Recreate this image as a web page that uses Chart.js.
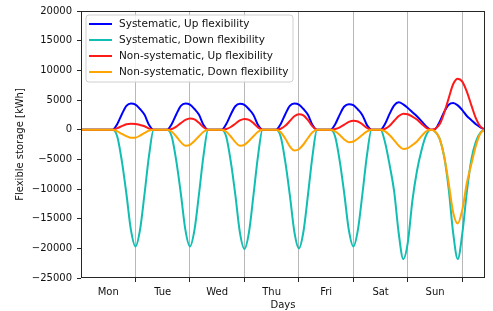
<!DOCTYPE html>
<html>
<head>
<meta charset="utf-8">
<script src="https://cdn.jsdelivr.net/npm/chart.js@4"></script>
<style>
  html, body { margin: 0; padding: 0; background: #fff; }
</style>
</head>
<body>
<canvas id="storageChart" width="493" height="311"></canvas>
<script>
'use strict';

// hours from the start of the week, every 2 h
var hours = [
  0, 2, 4, 6, 8, 10, 12, 14, 16, 18, 20, 22,
  24, 26, 28, 30, 32, 34, 36, 38, 40, 42, 44, 46,
  48, 50, 52, 54, 56, 58, 60, 62, 64, 66, 68, 70,
  72, 74, 76, 78, 80, 82, 84, 86, 88, 90, 92, 94,
  96, 98, 100, 102, 104, 106, 108, 110, 112, 114, 116, 118,
  120, 122, 124, 126, 128, 130, 132, 134, 136, 138, 140, 142,
  144, 146, 148, 150, 152, 154, 156, 158, 160, 162, 164, 166,
  168, 170, 172, 174, 176, 178
];
var dayNames = ['Mon', 'Tue', 'Wed', 'Thu', 'Fri', 'Sat', 'Sun'];
var seriesNames = [
  'Systematic, Up flexibility',
  'Systematic, Down flexibility',
  'Non-systematic, Up flexibility',
  'Non-systematic, Down flexibility'
];

var sysUp = [
  0, 0, 0, 0, 0, 0, 0, 0, 950, 2600, 4000, 4400,
  4220, 3480, 2500, 790, 0, 0, 0, 0, 950, 2600, 4000, 4400,
  4220, 3480, 2500, 790, 0, 0, 0, 0, 950, 2560, 3950, 4350,
  4170, 3440, 2480, 780, 0, 0, 0, 0, 950, 2600, 4000, 4400,
  4220, 3480, 2500, 790, 0, 0, 0, 0, 930, 2540, 3900, 4300,
  4130, 3400, 2450, 770, 0, 0, 0, 1000, 2700, 4100, 4600, 4250,
  3650, 2950, 2250, 1450, 600, 0, 100, 1300, 3000, 4200, 4500, 4100,
  3300, 2300, 1600, 900, 380, 0
];
var sysDown = [
  0, 0, 0, 0, 0, 0, 0, 0, -1200, -5300, -10800, -16900,
  -19700, -16900, -10800, -4300, 0, 0, 0, 0, -1200, -5300, -10800, -16900,
  -19700, -16900, -10800, -4300, 0, 0, 0, 0, -1200, -5400, -11000, -17300,
  -20100, -17300, -11000, -4400, 0, 0, 0, 0, -1200, -5400, -11000, -17200,
  -20000, -17200, -11000, -4400, 0, 0, 0, 0, -1200, -5300, -10800, -16900,
  -19700, -16900, -10800, -4300, 0, 0, 0, -2200, -6000, -10500, -17500, -21800,
  -19000, -12000, -7000, -3500, -1000, 0, -300, -1500, -4500, -10000, -17500, -21800,
  -17500, -10500, -5000, -2000, -500, 0
];
var nonSysUp = [
  0, 0, 0, 0, 0, 0, 0, 0, 250, 600, 910, 1000,
  960, 790, 570, 180, 0, 0, 0, 0, 100, 500, 1100, 1650,
  1900, 1750, 1150, 400, 0, 0, 0, 0, 100, 450, 1000, 1550,
  1800, 1650, 1100, 380, 0, 0, 0, 0, 150, 650, 1450, 2250,
  2600, 2400, 1600, 550, 0, 0, 0, 0, 100, 380, 850, 1300,
  1500, 1380, 900, 300, 0, 0, 0, 150, 650, 1500, 2300, 2700,
  2600, 2200, 1700, 1000, 350, 0, 150, 900, 2800, 5300, 7700, 8600,
  8100, 6400, 4100, 1900, 500, 0
];
var nonSysDown = [
  0, 0, 0, 0, 0, 0, 0, 0, -300, -700, -1100, -1380,
  -1350, -1000, -550, -150, 0, 0, 0, 0, -350, -1150, -2100, -2700,
  -2550, -1900, -1100, -350, 0, 0, 0, 0, -350, -1150, -2100, -2700,
  -2550, -1900, -1100, -350, 0, 0, 0, 0, -450, -1500, -2800, -3500,
  -3300, -2500, -1400, -450, 0, 0, 0, 0, -280, -900, -1650, -2100,
  -2000, -1500, -850, -280, 0, 0, 0, -300, -950, -1800, -2700, -3250,
  -3100, -2600, -2000, -1100, -300, 0, -300, -1500, -4500, -9000, -14000, -15800,
  -13500, -9000, -5800, -2700, -600, 0
];

var lineColors = ['#0000ff', '#12bdb2', '#ff1a1a', '#ffa500'];
var allSeries = [sysUp, sysDown, nonSysUp, nonSysDown];

Chart.defaults.font.family = '"DejaVu Sans", sans-serif';
Chart.defaults.font.size = 10;
Chart.defaults.color = '#111';

// matplotlib-like frame round the plot
var framePlugin = {
  id: 'frame',
  afterDraw: function (chart) {
    var a = chart.chartArea, c = chart.ctx;
    var l = Math.round(a.left) + 0.5, t = Math.round(a.top) + 0.5;
    var r = Math.round(a.right) - 0.5, b = Math.round(a.bottom) - 0.5;
    c.save();
    c.strokeStyle = '#262626';
    c.lineWidth = 1;
    c.strokeRect(l, t, r - l, b - t);
    c.restore();
  }
};

// legend box inside the plot, upper left
var boxLegend = {
  id: 'boxLegend',
  afterDraw: function (chart) {
    var c = chart.ctx;
    var x = 86, y = 15, w = 207, h = 67, r = 3;
    c.save();
    c.beginPath();
    c.moveTo(x + r, y);
    c.arcTo(x + w, y, x + w, y + h, r);
    c.arcTo(x + w, y + h, x, y + h, r);
    c.arcTo(x, y + h, x, y, r);
    c.arcTo(x, y, x + w, y, r);
    c.closePath();
    c.fillStyle = 'rgba(255,255,255,0.85)';
    c.fill();
    c.strokeStyle = '#d0d0d0';
    c.lineWidth = 1;
    c.stroke();
    c.font = '10.5px "DejaVu Sans", sans-serif';
    c.textBaseline = 'middle';
    chart.data.datasets.forEach(function (ds, i) {
      var rowY = 24 + i * 16;
      c.strokeStyle = ds.borderColor;
      c.lineWidth = 2;
      c.beginPath();
      c.moveTo(89, rowY);
      c.lineTo(112, rowY);
      c.stroke();
      c.fillStyle = '#111';
      c.fillText(ds.label, 119, rowY);
    });
    c.restore();
  }
};

var datasets = [];
for (var i = 0; i < allSeries.length; i++) {
  datasets.push({
    label: seriesNames[i],
    data: allSeries[i],
    borderColor: lineColors[i],
    borderWidth: 2,
    pointRadius: 0,
    fill: false,
    tension: 0.4,
    cubicInterpolationMode: 'monotone',
    order: allSeries.length - i
  });
}

var context = document.getElementById('storageChart').getContext('2d');
var myChart = new Chart(context, {
  type: 'line',
  data: { labels: hours, datasets: datasets },
  plugins: [framePlugin, boxLegend],
  options: {
    responsive: false,
    animation: false,
    layout: { padding: { top: 10, right: 8, left: 0, bottom: 0 } },
    plugins: { legend: { display: false }, tooltip: { enabled: false } },
    scales: {
      x: {
        type: 'linear',
        min: 0,
        max: 178,
        afterBuildTicks: function (scale) {
          var t = [];
          for (var v = 12; v <= 168; v += 12) t.push({ value: v });
          scale.ticks = t;
        },
        afterFit: function (scale) { scale.height = 33; },
        ticks: {
          autoSkip: false,
          maxRotation: 0,
          padding: 4,
          color: '#111',
          callback: function (value) {
            if (value % 24 === 12) return dayNames[(value - 12) / 24];
            return '';
          }
        },
        grid: {
          color: function (ctx) { return ctx.tick && ctx.tick.value % 24 === 0 ? '#b8b8b8' : 'rgba(0,0,0,0)'; },
          tickColor: function (ctx) { return ctx.tick && ctx.tick.value % 24 === 0 ? '#262626' : 'rgba(0,0,0,0)'; },
          tickLength: 4,
          lineWidth: 1
        },
        border: { display: false },
        title: { display: true, text: 'Days', padding: { top: 0, bottom: 0 }, color: '#111' }
      },
      y: {
        min: -25000,
        max: 20000,
        afterFit: function (scale) { scale.width = 81; },
        ticks: {
          stepSize: 5000,
          padding: 5,
          color: '#111',
          callback: function (value) {
            return value < 0 ? '\u2212' + Math.abs(value) : String(value);
          }
        },
        grid: { drawOnChartArea: false, tickLength: 4, tickColor: '#262626' },
        border: { display: false },
        title: { display: true, text: 'Flexible storage [kWh]', padding: { top: 14, bottom: 0 }, color: '#111' }
      }
    }
  }
});
</script>
</body>
</html>
